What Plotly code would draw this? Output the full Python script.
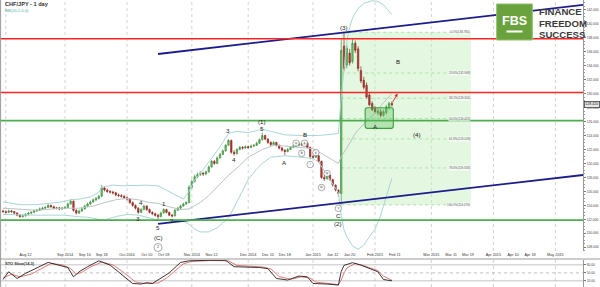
import pandas as pd
import plotly.graph_objects as go

FONT = "Liberation Sans, Arial, sans-serif"

# ---------------- data ----------------
bar_start = "2014-07-31"   # first daily bar (weekdays only)
opens = [
113.20,113.10,113.00,113.20,113.10,112.90,112.60,112.40,112.50,112.70,
112.90,113.00,113.20,113.30,113.50,113.60,113.70,114.00,113.80,113.60,
113.65,113.50,113.60,113.70,114.20,114.60,113.30,112.90,113.20,113.50,
113.90,114.20,114.50,114.80,115.00,115.30,116.50,116.20,116.00,115.90,
115.80,115.50,115.40,115.30,115.10,114.90,114.40,114.00,113.60,113.00,
113.40,113.90,113.40,113.00,112.80,112.60,112.40,112.90,113.40,113.00,
112.60,112.50,113.30,113.60,113.90,114.20,114.40,116.60,117.40,118.10,
118.40,118.60,118.50,118.80,119.50,120.30,120.00,120.80,121.30,121.80,
122.60,123.30,121.60,121.40,122.00,122.30,122.20,122.40,122.30,122.50,
122.60,122.90,123.40,124.00,123.50,123.00,122.70,123.00,122.60,122.20,
121.90,121.70,122.00,122.30,122.50,122.60,122.80,122.70,122.90,122.30,
121.00,120.90,121.10,120.30,118.00,117.80,118.30,117.70,116.90,116.20,
115.70,136.80,134.10,135.80,134.60,137.20,136.40,133.30,131.90,131.20,
129.80,128.60,127.90,127.20,127.40,126.90,127.30,128.00,128.60]
highs = [
113.35,113.30,113.40,113.35,113.20,113.00,112.75,112.70,112.90,113.05,
113.15,113.40,113.50,113.70,113.80,113.90,114.20,114.10,113.95,113.80,
113.75,113.80,113.90,114.40,114.90,114.70,113.45,113.40,113.70,114.10,
114.40,114.70,115.00,115.20,115.50,116.90,116.70,116.40,116.20,116.10,
115.95,115.70,115.60,115.50,115.25,115.05,114.55,114.15,113.75,113.60,
114.10,114.00,113.55,113.15,112.95,112.80,113.10,113.60,113.50,113.10,
112.75,113.50,113.80,114.10,114.40,114.60,116.90,117.70,118.40,118.70,
118.90,118.80,119.00,119.70,120.50,120.50,121.00,121.50,122.00,122.80,
123.50,123.40,121.90,122.20,122.50,122.50,122.60,122.55,122.70,122.80,
123.10,123.60,124.40,124.10,123.60,123.20,123.20,123.10,122.70,122.35,
122.05,122.20,122.50,122.70,122.80,123.00,122.95,123.10,123.00,122.40,
121.20,121.30,121.20,120.40,118.30,118.50,118.40,117.80,117.00,116.30,
137.80,138.78,137.00,136.40,137.90,137.60,136.80,133.90,132.40,131.60,
130.10,128.90,128.20,127.90,127.80,127.70,128.40,128.80,128.90]
lows = [
112.95,112.85,112.90,112.95,112.75,112.45,112.20,112.25,112.40,112.55,
112.75,112.90,113.05,113.20,113.35,113.45,113.60,113.65,113.45,113.40,
113.30,113.35,113.45,113.60,114.10,113.10,112.70,112.80,113.05,113.40,
113.75,114.05,114.35,114.60,114.85,115.20,116.00,115.80,115.70,115.55,
115.30,115.20,115.10,114.90,114.70,114.20,113.80,113.40,112.80,112.90,
113.30,113.20,112.85,112.60,112.40,112.00,112.30,112.80,112.85,112.45,
112.30,112.40,113.20,113.50,113.80,114.05,114.30,116.40,117.30,117.90,
118.20,118.20,118.30,118.70,119.40,119.80,119.90,120.70,121.20,121.70,
122.50,121.40,121.10,121.30,121.90,122.00,122.10,122.10,122.20,122.35,
122.50,122.80,123.30,123.30,122.80,122.50,122.60,122.40,122.00,121.70,
121.20,121.60,121.90,122.20,122.40,122.50,122.50,122.60,122.20,120.60,
120.70,120.80,120.10,117.80,117.50,117.70,117.50,116.70,116.00,115.25,
114.07,133.20,133.60,134.00,134.30,135.80,133.20,131.50,130.60,129.30,
128.20,127.50,127.10,126.90,126.60,126.70,127.00,127.70,128.10]
closes = [
113.10,113.00,113.20,113.10,112.90,112.60,112.40,112.50,112.70,112.90,
113.00,113.20,113.30,113.50,113.60,113.70,114.00,113.80,113.60,113.65,
113.50,113.60,113.70,114.20,114.60,113.30,112.90,113.20,113.50,113.90,
114.20,114.50,114.80,115.00,115.30,116.50,116.20,116.00,115.90,115.80,
115.50,115.40,115.30,115.10,114.90,114.40,114.00,113.60,113.00,113.40,
113.90,113.40,113.00,112.80,112.60,112.40,112.90,113.40,113.00,112.60,
112.50,113.30,113.60,113.90,114.20,114.40,116.60,117.40,118.10,118.40,
118.60,118.50,118.80,119.50,120.30,120.00,120.80,121.30,121.80,122.60,
123.30,121.60,121.40,122.00,122.30,122.20,122.40,122.30,122.50,122.60,
122.90,123.40,124.00,123.50,123.00,122.70,123.00,122.60,122.20,121.90,
121.70,122.00,122.30,122.50,122.60,122.80,122.70,122.90,122.30,121.00,
120.90,121.10,120.30,118.00,117.80,118.30,117.70,116.90,116.20,115.70,
136.20,133.60,136.50,134.40,137.20,136.20,133.60,131.80,130.90,129.50,
128.40,127.70,127.40,127.60,126.90,127.40,128.10,128.60,128.42]

# Bollinger bands
bb_up_dates = ["2014-07-31","2014-08-08","2014-08-18","2014-08-22","2014-08-29","2014-09-03","2014-09-08",
               "2014-09-12","2014-09-17","2014-09-18","2014-09-24","2014-09-30","2014-10-06","2014-10-10",
               "2014-10-16","2014-10-21","2014-10-24","2014-10-29","2014-10-31","2014-11-04","2014-11-06",
               "2014-11-11","2014-11-14","2014-11-20","2014-11-25","2014-12-01","2014-12-08","2014-12-11",
               "2014-12-18","2014-12-26","2015-01-05","2015-01-12","2015-01-14","2015-01-15","2015-01-16",
               "2015-01-19","2015-01-20","2015-01-21","2015-01-23","2015-01-27","2015-01-30","2015-02-03",
               "2015-02-05","2015-02-09","2015-02-10"]
bb_up = [114.5,114.1,114.1,114.3,114.5,114.8,114.9,115.2,115.9,116.6,116.9,116.8,116.9,116.9,
         116.8,116.2,115.5,114.9,116.0,117.6,118.6,120.2,121.8,124.3,124.6,124.4,124.9,124.6,
         124.1,124.0,124.0,124.2,124.3,129.5,134.0,137.5,139.5,140.8,142.2,142.9,143.3,143.2,
         142.7,141.8,141.3]
bb_mid_dates = ["2014-07-31","2014-08-08","2014-08-18","2014-08-26","2014-09-01","2014-09-08","2014-09-15",
                "2014-09-19","2014-09-25","2014-10-01","2014-10-07","2014-10-13","2014-10-16","2014-10-22",
                "2014-10-28","2014-10-31","2014-11-06","2014-11-11","2014-11-17","2014-11-20","2014-11-26",
                "2014-12-01","2014-12-08","2014-12-12","2014-12-18","2014-12-26","2015-01-01","2015-01-07",
                "2015-01-12","2015-01-14","2015-01-15","2015-01-19","2015-01-22","2015-01-28","2015-02-02",
                "2015-02-05","2015-02-10"]
bb_mid = [113.6,113.4,113.3,113.5,113.6,113.6,113.9,114.4,114.8,115.0,114.8,114.4,114.3,113.8,
          113.4,113.5,114.4,115.4,117.0,118.3,119.7,120.9,122.0,122.6,122.5,122.3,122.1,121.2,
          120.5,120.0,121.0,122.2,124.3,126.1,127.2,128.7,130.0]
bb_low_dates = ["2014-07-31","2014-08-08","2014-08-18","2014-08-26","2014-09-01","2014-09-05","2014-09-11",
                "2014-09-17","2014-09-19","2014-09-25","2014-10-01","2014-10-07","2014-10-13","2014-10-16",
                "2014-10-22","2014-10-28","2014-10-31","2014-11-04","2014-11-06","2014-11-11","2014-11-14",
                "2014-11-20","2014-11-25","2014-11-27","2014-12-01","2014-12-04","2014-12-08","2014-12-11",
                "2014-12-18","2014-12-26","2015-01-01","2015-01-05","2015-01-07","2015-01-12","2015-01-14",
                "2015-01-15","2015-01-16","2015-01-19","2015-01-21","2015-01-23","2015-01-27","2015-01-29",
                "2015-02-02","2015-02-04","2015-02-06","2015-02-10"]
bb_low = [112.7,112.6,112.6,112.6,112.6,112.4,112.3,112.0,111.9,112.4,112.7,112.6,112.2,111.9,
          111.8,112.0,111.3,110.6,110.2,110.2,110.8,112.2,114.5,116.2,117.7,119.2,120.0,120.9,
          121.1,120.9,120.7,120.2,118.9,117.0,115.8,112.6,110.5,109.5,108.2,107.7,108.3,109.5,
          110.6,112.6,115.3,117.9]

# Stochastic slow (14,3)
k_dates = ["2014-07-31","2014-08-04","2014-08-07","2014-08-12","2014-08-22","2014-08-28","2014-09-02",
           "2014-09-04","2014-09-08","2014-09-11","2014-09-17","2014-09-23","2014-09-26","2014-10-03",
           "2014-10-08","2014-10-10","2014-10-14","2014-10-20","2014-10-22","2014-10-28","2014-10-31",
           "2014-11-11","2014-11-19","2014-11-24","2014-12-05","2014-12-10","2014-12-15","2014-12-19",
           "2014-12-25","2014-12-30","2015-01-01","2015-01-08","2015-01-13","2015-01-14","2015-01-15",
           "2015-01-16","2015-01-21","2015-01-26","2015-02-03","2015-02-05","2015-02-10"]
k_vals = [25,54,29,48,89,79,70,35,54,73,95,79,54,10,8,13,10,35,50,89,95,97,97,73,70,66,29,23,
          38,35,10,8,4,4,55,78,88,79,54,25,20]
d_dates = ["2014-07-31","2014-08-05","2014-08-08","2014-08-14","2014-08-25","2014-08-29","2014-09-03",
           "2014-09-05","2014-09-09","2014-09-12","2014-09-18","2014-09-24","2014-09-29","2014-10-06",
           "2014-10-09","2014-10-14","2014-10-16","2014-10-21","2014-10-23","2014-10-29","2014-11-03",
           "2014-11-12","2014-11-20","2014-11-25","2014-12-08","2014-12-11","2014-12-16","2014-12-22",
           "2014-12-26","2014-12-31","2015-01-02","2015-01-09","2015-01-14","2015-01-15","2015-01-16",
           "2015-01-19","2015-01-22","2015-01-27","2015-02-03","2015-02-05","2015-02-10"]
d_vals = [30,45,35,45,85,80,66,45,52,72,90,80,58,16,10,11,12,30,47,84,93,96,95,78,72,65,36,26,
          35,30,15,9,6,22,50,68,85,77,58,38,22]

red_levels = [137.86, 130.16]
green_levels = [126.12, 111.90]
trend_dates = ["2014-10-16", "2015-05-15"]
trend_upper = [135.67, 142.70]
trend_lower = [111.34, 118.36]

fib_low, fib_high = 114.07, 138.78
fib_ratios = [0.0, 0.236, 0.382, 0.5, 0.618, 0.786, 1.0]
fib_dates = ["2015-01-15", "2015-03-20"]

zone_dates = ["2015-01-28", "2015-02-10"]
zone_prices = [125.03, 127.98]
arrow_from = ("2015-02-10", 128.6)
arrow_to = ("2015-02-12", 130.0)
last_price = 128.42

price_ticks = list(range(108, 143, 2))
stoch_ticks = [20, 50, 80]

x_labels = [("2014-08-12","Aug 12"),("2014-09-01","Sep 2014"),("2014-09-10","Sep 10"),("2014-09-18","Sep 18"),
            ("2014-10-01","Oct 2014"),("2014-10-10","Oct 10"),("2014-10-18","Oct 18"),("2014-11-01","Nov 2014"),
            ("2014-11-12","Nov 12"),("2014-12-01","Dec 2014"),("2014-12-10","Dec 10"),("2014-12-18","Dec 18"),
            ("2015-01-01","Jan 2015"),("2015-01-12","Jan 12"),("2015-01-20","Jan 20"),("2015-02-01","Feb 2015"),
            ("2015-02-11","Feb 11"),("2015-03-01","Mar 2015"),("2015-03-11","Mar 11"),("2015-03-19","Mar 19"),
            ("2015-04-01","Apr 2015"),("2015-04-10","Apr 10"),("2015-04-18","Apr 18"),("2015-05-01","May 2015")]
month_starts = ["2014-08-01","2014-09-01","2014-10-01","2014-11-01","2014-12-01","2015-01-01",
                "2015-02-01","2015-03-01","2015-04-01","2015-05-01"]

wave_labels = [("5","2014-10-16",110.83),("(C)","2014-10-16",109.40),
               ("3","2014-10-07",112.19),("4","2014-10-08",114.41),("1","2014-10-20",114.34),("2","2014-10-23",111.84),
               ("3","2014-11-20",124.72),("4","2014-11-24",120.64),("(1)","2014-12-08",126.00),("5","2014-12-08",125.00),
               ("A","2014-12-18",120.14),("B","2014-12-29",124.15),("C","2015-01-14",112.55),("(2)","2015-01-14",111.41),
               ("(3)","2015-01-16",139.47),("B","2015-02-12",134.53),("A","2015-02-02",125.29),("(4)","2015-02-23",124.15)]
circled_labels = [("2","2014-10-16",107.97),("a","2014-12-24",122.89),("b","2014-12-26",121.46),("c","2014-12-29",122.89),
                  ("i","2014-12-31",119.85),("ii","2015-01-02",121.54),("iii","2015-01-06",116.56),
                  ("iv","2015-01-08",118.56),("v","2015-01-14",113.58)]

# ---------------- helpers ----------------
axis_days = pd.bdate_range("2014-06-01", "2015-07-31")
origin = int(axis_days.searchsorted(pd.Timestamp("2014-09-01")))

def xpos(d):
    return int(axis_days.searchsorted(pd.Timestamp(d))) - origin

def xs(ds):
    return [xpos(d) for d in ds]

bar_dates = pd.bdate_range(bar_start, periods=len(closes))
bar_x = [xpos(d) for d in bar_dates]

W, H = 600, 287
PLOT_R = 583 / W
MAIN_BOT = 1 - 251 / H
STO_TOP = 1 - 259.5 / H
X_RANGE = [-23.07, 183.8]

fig = go.Figure()

# Bollinger bands
fig.add_trace(go.Scatter(x=xs(bb_up_dates), y=bb_up, mode="lines",
                         line=dict(color="#a9d6d6", width=1), hoverinfo="skip"))
fig.add_trace(go.Scatter(x=xs(bb_mid_dates), y=bb_mid, mode="lines",
                         line=dict(color="#b9c4c4", width=1), hoverinfo="skip"))
fig.add_trace(go.Scatter(x=xs(bb_low_dates), y=bb_low, mode="lines",
                         line=dict(color="#a9d6d6", width=1), hoverinfo="skip"))

# candles
fig.add_trace(go.Candlestick(
    x=bar_x, open=opens, high=highs, low=lows, close=closes,
    increasing=dict(line=dict(color="#3f8f3f", width=0.7), fillcolor="#74c474"),
    decreasing=dict(line=dict(color="#8e2a22", width=0.7), fillcolor="#b83a30"),
    whiskerwidth=0, hoverinfo="skip"))

# trend lines
fig.add_trace(go.Scatter(x=xs(trend_dates), y=trend_upper, mode="lines",
                         line=dict(color="#1c1c8c", width=1.8), hoverinfo="skip"))
fig.add_trace(go.Scatter(x=xs(trend_dates), y=trend_lower, mode="lines",
                         line=dict(color="#1c1c8c", width=1.8), hoverinfo="skip"))

# circled labels
fig.add_trace(go.Scatter(
    x=[xpos(d) for _, d, _ in circled_labels], y=[p for _, _, p in circled_labels],
    mode="markers+text", text=[t for t, _, _ in circled_labels], textposition="middle center",
    textfont=dict(family=FONT, size=3.6, color="#333"),
    marker=dict(symbol="circle", size=[8] + [6.5] * (len(circled_labels) - 1), color="white",
                line=dict(color="#555", width=0.7)),
    hoverinfo="skip", cliponaxis=False))

# stochastic
fig.add_trace(go.Scatter(x=xs(d_dates), y=d_vals, mode="lines", xaxis="x2", yaxis="y2",
                         line=dict(color="#e06a6a", width=0.9), hoverinfo="skip"))
fig.add_trace(go.Scatter(x=xs(k_dates), y=k_vals, mode="lines", xaxis="x2", yaxis="y2",
                         line=dict(color="#202020", width=0.9), hoverinfo="skip"))

shapes = []
# fib zone
fx0, fx1 = xs(fib_dates)
shapes.append(dict(type="rect", xref="x", yref="y", x0=fx0, x1=fx1, y0=fib_low, y1=fib_high,
                   fillcolor="rgba(196,238,186,0.45)", line=dict(width=0), layer="below"))
fib_levels = [fib_high - r * (fib_high - fib_low) for r in fib_ratios]
for lv in fib_levels:
    shapes.append(dict(type="line", xref="x", yref="y", x0=fx0, x1=fx1, y0=lv, y1=lv,
                       line=dict(color="#9ed99e", width=0.8, dash="dot"), layer="below"))
# month gridlines
for d in month_starts:
    xm = xpos(d)
    shapes.append(dict(type="line", xref="x", yref="paper", x0=xm, x1=xm, y0=MAIN_BOT, y1=1,
                       line=dict(color="#c8c8c8", width=0.8, dash="dot"), layer="below"))
    shapes.append(dict(type="line", xref="x", yref="paper", x0=xm, x1=xm, y0=0, y1=STO_TOP,
                       line=dict(color="#c8c8c8", width=0.8, dash="dot"), layer="below"))
# horizontal levels
for lv in red_levels:
    shapes.append(dict(type="line", xref="x domain", yref="y", x0=0, x1=1, y0=lv, y1=lv,
                       line=dict(color="#ff2424", width=1.6)))
for lv in green_levels:
    shapes.append(dict(type="line", xref="x domain", yref="y", x0=0, x1=1, y0=lv, y1=lv,
                       line=dict(color="#4cae4c", width=1.8)))
# consolidation zone (rounded)
zx0, zx1 = xpos(zone_dates[0]) - 0.5, xpos(zone_dates[1]) + 0.5
zy0, zy1 = zone_prices
rx, ry = 0.8, 0.33
path = (f"M {zx0+rx},{zy0} L {zx1-rx},{zy0} Q {zx1},{zy0} {zx1},{zy0+ry} L {zx1},{zy1-ry} "
        f"Q {zx1},{zy1} {zx1-rx},{zy1} L {zx0+rx},{zy1} Q {zx0},{zy1} {zx0},{zy1-ry} "
        f"L {zx0},{zy0+ry} Q {zx0},{zy0} {zx0+rx},{zy0} Z")
shapes.append(dict(type="path", xref="x", yref="y", path=path,
                   fillcolor="rgba(90,190,90,0.35)", line=dict(color="#3f9f3f", width=1.1)))
# stochastic levels
for v, dsh in [(80, "solid"), (50, "dot"), (20, "solid")]:
    shapes.append(dict(type="line", xref="x2 domain", yref="y2", x0=0, x1=1, y0=v, y1=v,
                       line=dict(color="#b4b4b4", width=0.8, dash=dsh), layer="below"))
# panel borders
shapes.append(dict(type="line", xref="paper", yref="paper", x0=0, x1=1, y0=1 - 259 / H, y1=1 - 259 / H,
                   line=dict(color="#9a9a9a", width=1)))
shapes.append(dict(type="line", xref="paper", yref="paper", x0=0.001, x1=0.001, y0=0, y1=1,
                   line=dict(color="#9a9a9a", width=1)))
# FBS logo
shapes.append(dict(type="rect", xref="paper", yref="paper", x0=496.7 / W, x1=532.3 / W,
                   y0=1 - 40 / H, y1=1 - 4 / H, fillcolor="#6aa33e",
                   line=dict(color="#8fc06a", width=1)))
shapes.append(dict(type="rect", xref="paper", yref="paper", x0=506.5 / W, x1=522.5 / W,
                   y0=1 - 32.5 / H, y1=1 - 30.5 / H, fillcolor="white", line=dict(width=0)))

annotations = []
for t, d, p in wave_labels:
    annotations.append(dict(x=xpos(d), y=p, xref="x", yref="y", text=t, showarrow=False,
                            font=dict(family=FONT, size=6.2, color="#222")))
for r, lv in zip(fib_ratios, fib_levels):
    annotations.append(dict(x=fx1, y=lv, xref="x", yref="y", text=f"{r*100:.1f}%({lv:.3f})",
                            showarrow=False, xanchor="right", yanchor="middle",
                            font=dict(family=FONT, size=3.0, color="#555"),
                            bgcolor="rgba(255,255,255,0.7)", borderpad=0))
annotations.append(dict(x=xpos(arrow_to[0]), y=arrow_to[1], ax=xpos(arrow_from[0]), ay=arrow_from[1],
                        xref="x", yref="y", axref="x", ayref="y", text="", showarrow=True,
                        arrowhead=2, arrowsize=0.7, arrowwidth=0.9, arrowcolor="#e02020"))
annotations.append(dict(x=3 / W, y=1 - 4.5 / H, xref="paper", yref="paper", text="<b>CHF/JPY - 1 day</b>",
                        showarrow=False, xanchor="left", yanchor="middle",
                        font=dict(family=FONT, size=5.6, color="#333")))
annotations.append(dict(x=3 / W, y=1 - 10 / H, xref="paper", yref="paper", text="BB(20,2,0,0)",
                        showarrow=False, xanchor="left", yanchor="middle",
                        font=dict(family=FONT, size=4.2, color="#59a9a9")))
annotations.append(dict(x=3 / W, y=1 - 263 / H, xref="paper", yref="paper", text="<b>STO Slow(14,3)</b>",
                        showarrow=False, xanchor="left", yanchor="middle",
                        font=dict(family=FONT, size=4.0, color="#333")))
annotations.append(dict(x=514.5 / W, y=1 - 21 / H, xref="paper", yref="paper", text="<b>FBS</b>",
                        showarrow=False, xanchor="center", yanchor="middle",
                        font=dict(family=FONT, size=12.5, color="white")))
for i, word in enumerate(["FINANCE", "FREEDOM", "SUCCESS"]):
    annotations.append(dict(x=536.5 / W, y=1 - (11.7 + 11.3 * i) / H, xref="paper", yref="paper",
                            text=f"<b>{word}</b>", showarrow=False, xanchor="left", yanchor="middle",
                            font=dict(family=FONT, size=9.6, color="#3b3b3b")))
annotations.append(dict(x=PLOT_R + 1 / W, y=last_price, xref="paper", yref="y", text=f"{last_price:.3f}",
                        showarrow=False, xanchor="left", yanchor="middle",
                        font=dict(family=FONT, size=3.6, color="#222"),
                        bgcolor="#e6e6e6", bordercolor="#444", borderwidth=0.8, borderpad=0.5))

fig.update_layout(
    width=W, height=H, margin=dict(l=0, r=0, t=0, b=0),
    paper_bgcolor="white", plot_bgcolor="white", showlegend=False,
    shapes=shapes, annotations=annotations,
    xaxis=dict(domain=[0, PLOT_R], range=X_RANGE, anchor="y", rangeslider=dict(visible=False),
               tickmode="array", tickvals=[xpos(d) for d, _ in x_labels], ticktext=[t for _, t in x_labels],
               tickfont=dict(family=FONT, size=3.8, color="#333"), ticks="", showgrid=False,
               zeroline=False, showline=False),
    yaxis=dict(domain=[MAIN_BOT, 1], range=[107.47, 143.40], side="right", anchor="x",
               tickmode="array", tickvals=price_ticks, ticktext=[f"{v:.3f}" for v in price_ticks],
               tickfont=dict(family=FONT, size=3.3, color="#444"), ticks="outside", ticklen=2,
               tickcolor="#777", showline=True, linecolor="#999", linewidth=1, showgrid=False,
               zeroline=False,
               minor=dict(dtick=0.5, ticks="outside", ticklen=1, tickcolor="#999", showgrid=False)),
    xaxis2=dict(domain=[0, PLOT_R], range=X_RANGE, anchor="y2", matches="x", showticklabels=False,
                showgrid=False, zeroline=False, showline=False),
    yaxis2=dict(domain=[0, STO_TOP], range=[-3.1, 100], side="right", anchor="x2",
                tickmode="array", tickvals=stoch_ticks, ticktext=[f"{v:.2f}" for v in stoch_ticks],
                tickfont=dict(family=FONT, size=3.3, color="#444"), ticks="outside", ticklen=2,
                tickcolor="#777", showline=True, linecolor="#999", linewidth=1, showgrid=False,
                zeroline=False),
)

fig.write_html("out.html")
